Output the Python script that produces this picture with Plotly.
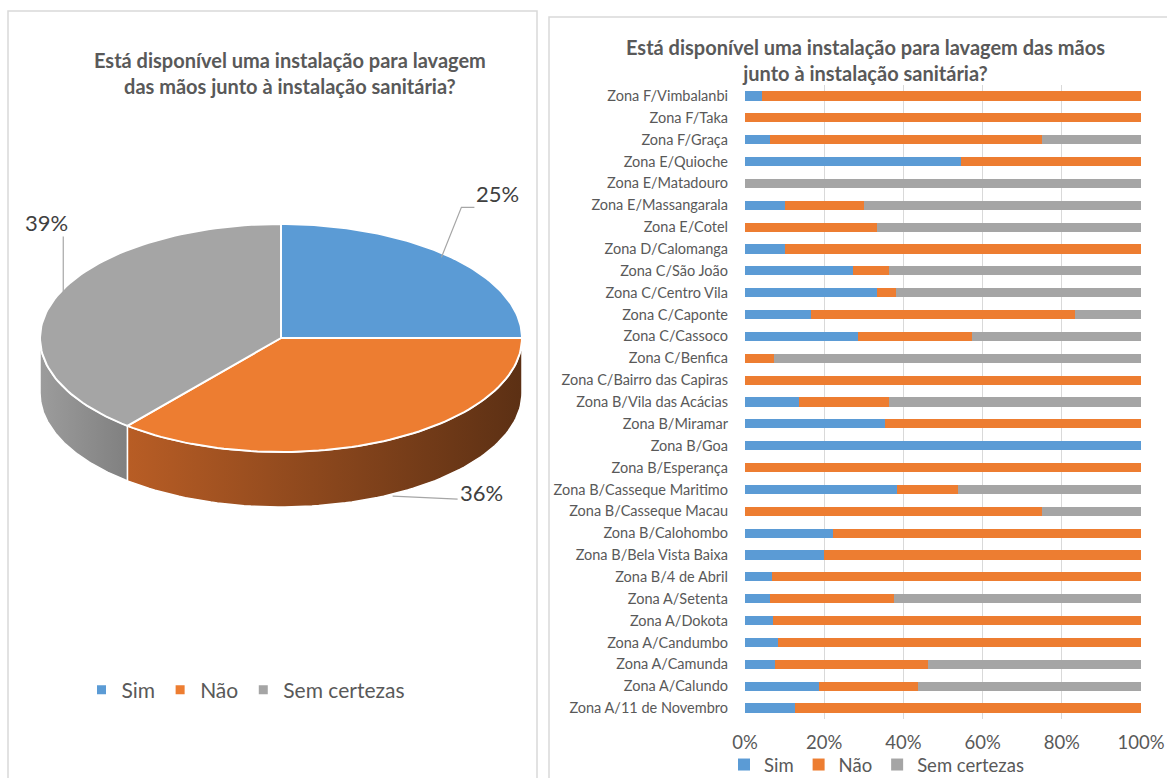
import math
import plotly.graph_objects as go

# ---------------------------------------------------------------- data
answers = ["Sim", "Não", "Sem certezas"]
colors = ["#5B9BD5", "#ED7D31", "#A5A5A5"]

# overall shares (pie)
overall_pct = [25, 36, 39]

# per-zone shares (100% stacked bars), listed bottom to top
zones = [
    "Zona A/11 de Novembro", "Zona A/Calundo", "Zona A/Camunda", "Zona A/Candumbo",
    "Zona A/Dokota", "Zona A/Setenta", "Zona B/4 de Abril", "Zona B/Bela Vista Baixa",
    "Zona B/Calohombo", "Zona B/Casseque Macau", "Zona B/Casseque Maritimo",
    "Zona B/Esperança", "Zona B/Goa", "Zona B/Miramar", "Zona B/Vila das Acácias",
    "Zona C/Bairro das Capiras", "Zona C/Benfica", "Zona C/Cassoco", "Zona C/Caponte",
    "Zona C/Centro Vila", "Zona C/São João", "Zona D/Calomanga", "Zona E/Cotel",
    "Zona E/Massangarala", "Zona E/Matadouro", "Zona E/Quioche", "Zona F/Graça",
    "Zona F/Taka", "Zona F/Vimbalanbi",
]
sim = [12.5, 18.75, 7.7, 8.3, 7.1, 6.25, 6.7, 20.0, 22.2, 0, 38.5, 0, 100, 35.3, 13.6,
       0, 0, 28.6, 16.7, 33.3, 27.3, 10.0, 0, 10.0, 0, 54.5, 6.25, 0, 4.3]
nao = [87.5, 25.0, 38.5, 91.7, 92.9, 31.25, 93.3, 80.0, 77.8, 75.0, 15.4, 100, 0, 64.7, 22.7,
       100, 7.4, 28.6, 66.6, 4.8, 9.1, 90.0, 33.3, 20.0, 0, 45.5, 68.75, 100, 95.7]
sem = [0, 56.25, 53.8, 0, 0, 62.5, 0, 0, 0, 25.0, 46.1, 0, 0, 0, 63.7,
       0, 92.6, 42.8, 16.7, 61.9, 63.6, 0, 66.7, 70.0, 100, 0, 25.0, 0, 0]
x_ticks = [0, 20, 40, 60, 80, 100]

FONT = "Lato"
TEXT = "#595959"

W, H = 1167, 778

fig = go.Figure()

# ---------------------------------------------------------------- 3-D pie (left panel)
# The pie lives on a hidden cartesian axis measured in pixels (y downwards).
CX, CY, RX, RY, DEPTH = 281, 338, 241, 114, 55


def rim(theta, drop=0.0):
    """Point on the pie rim; theta in degrees, clockwise from 12 o'clock."""
    t = math.radians(theta)
    return CX + RX * math.sin(t), CY - RY * math.cos(t) + drop


def arc(a, b, drop=0.0, n=80):
    pts = [rim(a + (b - a) * i / n, drop) for i in range(n + 1)]
    return [p[0] for p in pts], [p[1] for p in pts]


wall_shades = {
    "Sim": ["#4A7FB0", "#3A6690"],
    "Não": ["#B85D25", "#5C3014"],
    "Sem certezas": ["#9C9C9C", "#808080"],
}

bounds = []
acc = 0.0
for v in overall_pct:
    a = acc / sum(overall_pct) * 360
    acc += v
    b = acc / sum(overall_pct) * 360
    bounds.append((a, b))

# side walls: only the front half (90..270 degrees) is visible
for name, (a, b) in zip(answers, bounds):
    lo, hi = max(a, 90), min(b, 270)
    if hi <= lo:
        continue
    tx, ty = arc(lo, hi)
    bx, by = arc(hi, lo, DEPTH)
    fig.add_trace(go.Scatter(
        x=tx + bx + [tx[0]], y=ty + by + [ty[0]], mode="lines", fill="toself",
        line=dict(color="white", width=1.5),
        fillgradient=dict(type="horizontal",
                          colorscale=[[0, wall_shades[name][0]], [1, wall_shades[name][1]]]),
        showlegend=False, hoverinfo="skip", xaxis="x", yaxis="y"))

# top faces
for name, col, (a, b) in zip(answers, colors, bounds):
    ax_, ay_ = arc(a, b)
    fig.add_trace(go.Scatter(
        x=[CX] + ax_ + [CX], y=[CY] + ay_ + [CY], mode="lines", fill="toself",
        fillcolor=col, line=dict(color="white", width=2),
        showlegend=False, hoverinfo="skip", xaxis="x", yaxis="y"))

# legend keys for the pie
for name, col in zip(answers, colors):
    fig.add_trace(go.Scatter(
        x=[None], y=[None], mode="markers", name=name,
        marker=dict(symbol="square", size=9, color=col),
        legend="legend", xaxis="x", yaxis="y"))

# data labels with leader lines (offsets relative to the slice anchor)
leader_style = {
    "Sim": dict(on_wall=False, path=[(-10, 0), (10, -50), (23, -50)], label=(46, -64)),
    "Não": dict(on_wall=True, path=[(9, 0), (74, 3)], label=(98, -4)),
    "Sem certezas": dict(on_wall=False, path=[(9, -1), (9, -63)], label=(-8, -77)),
}
annotations = []
for name, v, (a, b) in zip(answers, overall_pct, bounds):
    st = leader_style[name]
    mx, my = rim((a + b) / 2, DEPTH if st["on_wall"] else 0)
    fig.add_trace(go.Scatter(
        x=[mx + dx for dx, dy in st["path"]], y=[my + dy for dx, dy in st["path"]],
        mode="lines", line=dict(color="#A6A6A6", width=1.2),
        showlegend=False, hoverinfo="skip", xaxis="x", yaxis="y"))
    annotations.append(dict(
        x=mx + st["label"][0], y=my + st["label"][1], xref="x", yref="y",
        xanchor="center", yanchor="middle",
        text=f"{v}%", showarrow=False, font=dict(family=FONT, size=22, color="#404040")))

# ---------------------------------------------------------------- stacked bars (right panel)
for name, col, vals in zip(answers, colors, [sim, nao, sem]):
    fig.add_trace(go.Bar(
        y=zones, x=vals, orientation="h", name=name, marker=dict(color=col, line_width=0),
        xaxis="x2", yaxis="y2", legend="legend2",
        hovertemplate="%{y}<br>" + name + ": %{x}%<extra></extra>"))

# ---------------------------------------------------------------- titles
annotations.append(dict(
    x=290 / W, y=1 - 73 / H, xref="paper", yref="paper", showarrow=False,
    xanchor="center", yanchor="middle",
    text="<b>Está disponível uma instalação para lavagem<br>das mãos junto à instalação sanitária?</b>",
    font=dict(family=FONT, size=20, color=TEXT), align="center"))
annotations.append(dict(
    x=865 / W, y=1 - 60 / H, xref="paper", yref="paper", showarrow=False,
    xanchor="center", yanchor="middle",
    text="<b>Está disponível uma instalação para lavagem das mãos<br>junto à instalação sanitária?</b>",
    font=dict(family=FONT, size=20, color=TEXT), align="center"))

# panel frames
shapes = [
    dict(type="rect", xref="paper", yref="paper", x0=8 / W, x1=537 / W, y0=-0.01, y1=1 - 11 / H,
         line=dict(color="#D9D9D9", width=1.5)),
    dict(type="rect", xref="paper", yref="paper", x0=549 / W, x1=1.01, y0=-0.01, y1=1 - 17 / H,
         line=dict(color="#D9D9D9", width=1.5)),
]

fig.update_layout(
    width=W, height=H, autosize=False,
    margin=dict(l=0, r=0, t=0, b=0, autoexpand=False),
    paper_bgcolor="white", plot_bgcolor="white",
    font=dict(family=FONT, color=TEXT),
    barmode="stack", bargap=0.58,
    annotations=annotations, shapes=shapes,
    xaxis=dict(domain=[0, 540 / W], range=[0, 540], visible=False, fixedrange=True),
    yaxis=dict(domain=[0, 1], range=[H, 0], visible=False, fixedrange=True),
    xaxis2=dict(domain=[745 / W, 1141 / W], range=[0, 100], anchor="y2",
                tickvals=x_ticks, ticktext=[f"{t}%" for t in x_ticks],
                showgrid=True, gridcolor="#D9D9D9", gridwidth=1.3, zeroline=False, showline=False,
                tickfont=dict(family=FONT, size=18.5, color=TEXT), ticklabelstandoff=10,
                automargin=False, fixedrange=True),
    yaxis2=dict(domain=[1 - 719 / H, 1 - 85 / H], anchor="x2", type="category",
                categoryorder="array", categoryarray=zones, showgrid=False,
                tickfont=dict(family=FONT, size=14.5, color=TEXT), ticklabelstandoff=16,
                automargin=False, fixedrange=True),
    legend=dict(orientation="h", x=246 / W, xanchor="center", y=1 - 690 / H, yanchor="middle",
                font=dict(family=FONT, size=21, color=TEXT), bgcolor="rgba(0,0,0,0)",
                itemwidth=30),
    legend2=dict(orientation="h", x=724 / W, xanchor="left", y=1 - 765 / H, yanchor="middle",
                 font=dict(family=FONT, size=18.5, color=TEXT), bgcolor="rgba(0,0,0,0)",
                 itemwidth=30, traceorder="normal"),
)

fig.write_html("out.html")
